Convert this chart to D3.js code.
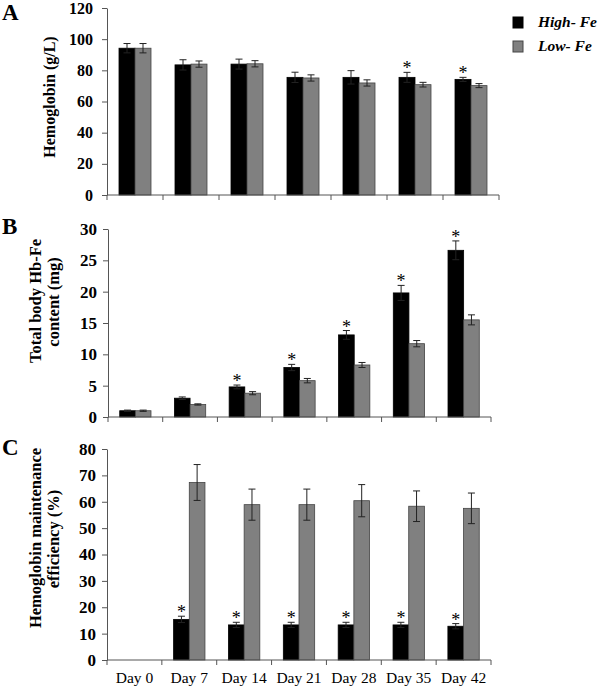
<!DOCTYPE html>
<html><head><meta charset="utf-8">
<script src="https://cdn.jsdelivr.net/npm/d3@7"></script>
<style>body{margin:0;background:#fff}svg{display:block}</style>
</head><body><svg id="c" width="600" height="688"></svg>
<script>
// ---- data ----
const days = ["Day 0","Day 7","Day 14","Day 21","Day 28","Day 35","Day 42"];
const series = ["High- Fe","Low- Fe"];

const hbHigh    = [94.2, 83.5, 84.0, 75.5, 75.5, 75.5, 74.2];
const hbHighErr = [3.0, 3.3, 3.2, 3.3, 4.3, 3.2, 1.3];
const hbLow     = [94.2, 84.0, 84.2, 75.1, 71.9, 70.8, 70.2];
const hbLowErr  = [3.0, 2.0, 2.0, 2.0, 2.0, 1.5, 1.3];
const hbStars   = ["Day 35","Day 42"];
const hbTicks   = [0,20,40,60,80,100,120];

const feHigh    = [1.0, 3.0, 4.8, 7.9, 13.1, 19.8, 26.6];
const feHighErr = [0.1, 0.2, 0.3, 0.5, 0.7, 1.2, 1.5];
const feLow     = [1.0, 2.0, 3.8, 5.8, 8.3, 11.7, 15.5];
const feLowErr  = [0.1, 0.1, 0.25, 0.35, 0.4, 0.5, 0.8];
const feStars   = ["Day 14","Day 21","Day 28","Day 35","Day 42"];
const feTicks   = [0,5,10,15,20,25,30];

const effHigh    = [null, 15.4, 13.3, 13.3, 13.3, 13.3, 12.8];
const effHighErr = [0, 1.2, 1.0, 1.0, 1.0, 1.0, 1.0];
const effLow     = [null, 67.3, 58.9, 58.9, 60.4, 58.3, 57.5];
const effLowErr  = [0, 6.8, 5.9, 5.9, 6.1, 5.8, 5.8];
const effStars   = ["Day 7","Day 14","Day 21","Day 28","Day 35","Day 42"];
const effTicks   = [0,10,20,30,40,50,60,70,80];

// ---- drawing ----
const svg = d3.select("#c");
const SERIF = "'Liberation Serif','Times New Roman',serif";
const colors = {"High- Fe":"#000000","Low- Fe":"#808080"};
const axisColor = "#555";

function panel(cfg){
  const g = svg.append("g");
  const x = d3.scaleBand().domain(days).range([cfg.l, cfg.r]).paddingInner(0).paddingOuter(0);
  const xs = d3.scaleBand().domain(series).range([0, x.bandwidth()]).paddingInner(0).paddingOuter(0.75);
  const y = d3.scaleLinear().domain([0, d3.max(cfg.ticks)]).range([cfg.b, cfg.t]);

  const rows = [];
  days.forEach((d,i)=>{
    rows.push({day:d, s:"High- Fe", v:cfg.high[i], e:cfg.highErr[i]});
    rows.push({day:d, s:"Low- Fe", v:cfg.low[i], e:cfg.lowErr[i]});
  });
  const valid = rows.filter(r=>r.v!=null);

  // bars
  g.selectAll("rect.bar").data(valid).join("rect")
    .attr("x", r=>x(r.day)+xs(r.s)).attr("width", xs.bandwidth())
    .attr("y", r=>y(r.v)).attr("height", r=>y(0)-y(r.v))
    .attr("fill", r=>colors[r.s]).attr("stroke", r=>r.s==="Low- Fe"?"#444":"#000").attr("stroke-width",0.8);

  // error bars
  const eg = g.selectAll("g.err").data(valid).join("g").attr("stroke","#222").attr("stroke-width",1);
  const cx = r=>x(r.day)+xs(r.s)+xs.bandwidth()/2;
  eg.append("line").attr("x1",cx).attr("x2",cx).attr("y1",r=>y(r.v+r.e)).attr("y2",r=>y(r.v-r.e));
  eg.append("line").attr("x1",r=>cx(r)-3.5).attr("x2",r=>cx(r)+3.5).attr("y1",r=>y(r.v+r.e)).attr("y2",r=>y(r.v+r.e));
  eg.append("line").attr("x1",r=>cx(r)-3.5).attr("x2",r=>cx(r)+3.5).attr("y1",r=>y(r.v-r.e)).attr("y2",r=>y(r.v-r.e));

  // stars
  g.selectAll("text.star").data(valid.filter(r=>r.s==="High- Fe" && cfg.stars.includes(r.day))).join("text")
    .attr("x", cx).attr("y", r=>y(r.v+r.e)+2).attr("text-anchor","middle")
    .style("font-family",SERIF).style("font-size","18px").attr("fill","#000").text("*");

  // y axis
  const ya = g.append("g").attr("transform",`translate(${cfg.l},0)`)
    .call(d3.axisLeft(y).tickValues(cfg.ticks).tickSize(5).tickSizeOuter(0).tickPadding(cfg.pad));
  ya.select(".domain").attr("stroke",axisColor);
  ya.selectAll(".tick line").attr("stroke",axisColor);
  ya.selectAll(".tick text").style("font-family",SERIF).style("font-weight","bold")
    .style("font-size",cfg.fs+"px").attr("fill","#000");

  // x axis line & boundary ticks
  const bounds = days.map(d=>x(d)).concat([cfg.r]);
  g.append("line").attr("x1",cfg.l).attr("x2",cfg.r).attr("y1",y(0)).attr("y2",y(0)).attr("stroke",axisColor);
  g.selectAll("line.xt").data(bounds).join("line").attr("x1",d=>d).attr("x2",d=>d)
    .attr("y1",y(0)).attr("y2",y(0)+5).attr("stroke",axisColor);
  if(cfg.labels){
    g.selectAll("text.xl").data(days).join("text")
      .attr("x",d=>x(d)+x.bandwidth()/2).attr("y",683).attr("text-anchor","middle")
      .style("font-family",SERIF).style("font-size","15.5px").attr("fill","#000").text(d=>d);
  }

  // y title
  cfg.title.forEach(tl=>{
    g.append("text").attr("transform",`translate(${tl.x},${tl.cy}) rotate(-90)`)
      .attr("text-anchor","middle").style("font-family",SERIF).style("font-weight","bold")
      .style("font-size",cfg.tfs+"px").attr("fill","#000").text(tl.text);
  });
  // panel letter
  g.append("text").attr("x",2).attr("y",cfg.letterY).style("font-family",SERIF).style("font-weight","bold")
    .style("font-size","23px").attr("fill","#000").text(cfg.letter);
}

panel({l:107,r:499,t:8,b:195,ticks:hbTicks,high:hbHigh,highErr:hbHighErr,low:hbLow,lowErr:hbLowErr,
  stars:hbStars,pad:9,fs:16,tfs:16,letter:"A",letterY:20,
  title:[{text:"Hemoglobin (g/L)",x:55,cy:97}]});
panel({l:108,r:491,t:229,b:417,ticks:feTicks,high:feHigh,highErr:feHighErr,low:feLow,lowErr:feLowErr,
  stars:feStars,pad:6,fs:17,tfs:16.5,letter:"B",letterY:234,
  title:[{text:"Total body Hb-Fe",x:41,cy:301},{text:"content (mg)",x:59,cy:302}]});
panel({l:107,r:491,t:449,b:660,ticks:effTicks,high:effHigh,highErr:effHighErr,low:effLow,lowErr:effLowErr,
  stars:effStars,pad:6,fs:17,tfs:16.5,letter:"C",letterY:455,labels:true,
  title:[{text:"Hemoglobin maintenance",x:41,cy:538},{text:"efficiency (%)",x:59,cy:539}]});

// legend
const lg = svg.append("g");
series.forEach((s,i)=>{
  lg.append("rect").attr("x",513).attr("y",17+i*24).attr("width",10).attr("height",11)
    .attr("fill",colors[s]).attr("stroke",i? "#444":"#000");
  lg.append("text").attr("x",538).attr("y",27+i*24).style("font-family",SERIF).style("font-weight","bold")
    .style("font-style","italic").style("font-size","15.5px").attr("fill","#000").text(s);
});
</script></body></html>
